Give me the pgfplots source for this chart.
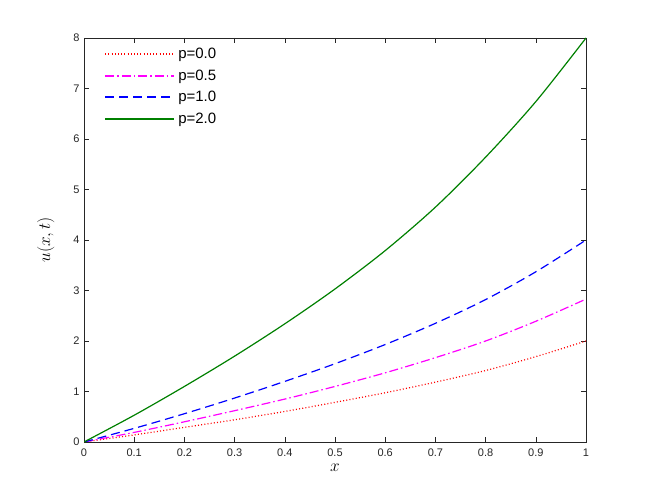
\documentclass[border=0pt]{standalone}
\usepackage{pgfplots}
\pgfplotsset{compat=1.18}
\usepackage{fontspec}
\setmainfont{Liberation Sans}
\definecolor{mgreen}{rgb}{0,0.5,0}
\definecolor{mmag}{rgb}{1,0,1}
\definecolor{mblue}{rgb}{0,0,1}
\definecolor{mred}{rgb}{1,0,0}
\definecolor{axgray}{rgb}{0.15,0.15,0.15}
\begin{document}
\begin{tikzpicture}
\begin{axis}[
  scale only axis,
  width=502pt, height=404pt,
  xmin=0, xmax=1, ymin=0, ymax=8,
  xtick={0,0.1,...,1.0},
  ytick={0,1,...,8},
  tick align=inside,
  major tick length=5pt,
  axis line style={axgray, line width=0.6pt},
  tick style={axgray, line width=0.6pt},
  tick label style={font=\fontsize{11}{13}\selectfont, color=axgray},
  /pgf/number format/assume math mode=true,
  xticklabel style={yshift=-3pt},
  yticklabel style={xshift=-1pt},
  xlabel={$x$},
  ylabel={$u(x,t)$},
  label style={font=\fontsize{19}{22}\selectfont},
  xlabel style={yshift=-1pt},
  ylabel style={yshift=12pt},
  legend cell align=left,
  legend style={at={(0.040,0.982)}, anchor=north west, draw=none, fill=none,
    font=\fontsize{15}{17}\selectfont, inner sep=0pt, row sep=3.5pt,
    nodes={inner sep=3pt}},
  legend image code/.code={\draw[#1] (0pt,0pt) -- (69pt,0pt);},
]
\addplot[mred, smooth, line width=1.2pt, dash pattern=on 1pt off 2.2pt, forget plot] coordinates {
(0,0) (0.1,0.14) (0.2,0.29) (0.3,0.44) (0.4,0.605) (0.5,0.785) (0.6,0.975) (0.7,1.185) (0.8,1.415) (0.9,1.69) (1.0,2.0)};
\addplot[mmag, smooth, line width=1.2pt, dash pattern=on 9pt off 3pt on 1.5pt off 3pt, forget plot] coordinates {
(0,0) (0.1,0.19) (0.2,0.40) (0.3,0.62) (0.4,0.85) (0.5,1.10) (0.6,1.37) (0.7,1.67) (0.8,2.00) (0.9,2.39) (1.0,2.83)};
\addplot[mblue, smooth, line width=1.2pt, dash pattern=on 9pt off 5pt, forget plot] coordinates {
(0,0) (0.1,0.27) (0.2,0.56) (0.3,0.87) (0.4,1.20) (0.5,1.55) (0.6,1.93) (0.7,2.35) (0.8,2.82) (0.9,3.37) (1.0,4.0)};
\addplot[mgreen, smooth, line width=1.2pt, forget plot] coordinates {
(0,0) (0.1,0.53) (0.2,1.10) (0.3,1.70) (0.4,2.34) (0.5,3.03) (0.6,3.79) (0.7,4.65) (0.8,5.64) (0.9,6.74) (1.0,8.0)};
\addlegendimage{mred, line width=2pt, dash pattern=on 1pt off 2.2pt}
\addlegendentry{p=0.0}
\addlegendimage{mmag, line width=2pt, dash pattern=on 9pt off 3pt on 1.5pt off 3pt}
\addlegendentry{p=0.5}
\addlegendimage{mblue, line width=2pt, dash pattern=on 9pt off 5pt}
\addlegendentry{p=1.0}
\addlegendimage{mgreen, line width=2pt}
\addlegendentry{p=2.0}
\end{axis}
\path (current axis.south west) ++(-84pt,-55pt) coordinate (bbsw);
\path (current axis.north east) ++(61pt,38pt) coordinate (bbne);
\useasboundingbox (bbsw) rectangle (bbne);
\end{tikzpicture}
\end{document}
